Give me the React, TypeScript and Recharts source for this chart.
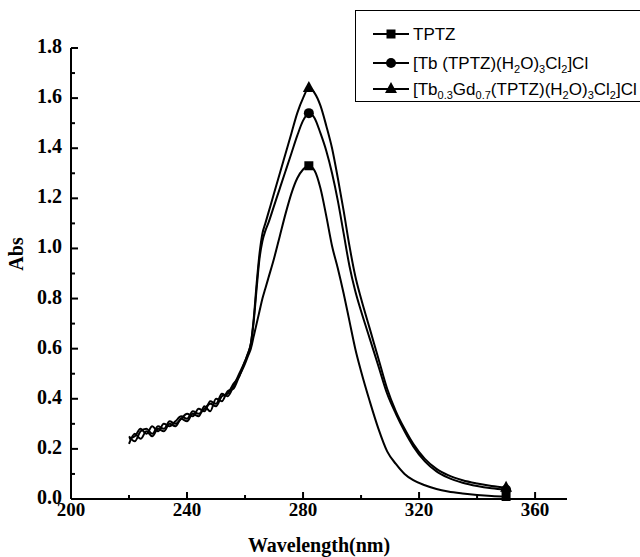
import { LineChart, Line, XAxis, YAxis } from "recharts";

const wavelength = [
  220, 222, 224, 226, 228, 230, 232, 234, 236, 238, 240, 242, 244, 246, 248, 250, 252, 254, 256, 258, 260,
  261, 262, 263, 264, 265, 266, 267, 268, 270, 272, 274, 276, 278, 280, 282, 284, 286, 288, 290, 292, 294,
  296, 298, 300, 303, 306, 309, 312, 315, 318, 322, 326, 330, 335, 340, 345, 350,
];

const tptz = [
  0.22, 0.26, 0.24, 0.27, 0.25, 0.28, 0.27, 0.3, 0.29, 0.32, 0.31, 0.34, 0.33, 0.37, 0.35, 0.4, 0.39, 0.43, 0.44, 0.49, 0.54,
  0.57, 0.6, 0.65, 0.7, 0.75, 0.8, 0.84, 0.88, 0.96, 1.05, 1.14, 1.22, 1.28, 1.315, 1.33, 1.31, 1.24, 1.13, 1.01, 0.92, 0.82,
  0.71, 0.6, 0.51, 0.39, 0.28, 0.19, 0.14, 0.1, 0.075, 0.055, 0.04, 0.03, 0.022, 0.016, 0.012, 0.01,
];

const tbComplex = [
  0.25, 0.23, 0.27, 0.28, 0.26, 0.29, 0.28, 0.31, 0.3, 0.32, 0.34, 0.33, 0.36, 0.35, 0.39, 0.38, 0.42, 0.41, 0.45, 0.5, 0.55,
  0.58, 0.62, 0.71, 0.84, 0.96, 1.03, 1.07, 1.1, 1.17, 1.24, 1.31, 1.38, 1.45, 1.51, 1.54, 1.52, 1.46, 1.39, 1.3, 1.19, 1.06,
  0.93, 0.83, 0.75, 0.64, 0.53, 0.42, 0.34, 0.27, 0.21, 0.15, 0.11, 0.085, 0.065, 0.052, 0.043, 0.037,
];

const tbGdComplex = [
  0.24, 0.25, 0.28, 0.26, 0.29, 0.27, 0.3, 0.29, 0.31, 0.33, 0.32, 0.35, 0.34, 0.36, 0.38, 0.37, 0.41, 0.42, 0.46, 0.49, 0.55,
  0.58, 0.62, 0.72, 0.86, 0.98, 1.06, 1.1, 1.14, 1.22, 1.3, 1.38, 1.46, 1.54, 1.6, 1.64, 1.62, 1.57, 1.49, 1.4, 1.28, 1.15,
  1.01, 0.89, 0.8, 0.68, 0.56, 0.44, 0.35, 0.28, 0.22, 0.16, 0.12, 0.095, 0.075, 0.062, 0.052, 0.045,
];

const xTicks = [200, 220, 240, 260, 280, 300, 320, 340, 360];
const yTicks = [0, 0.1, 0.2, 0.3, 0.4, 0.5, 0.6, 0.7, 0.8, 0.9, 1.0, 1.1, 1.2, 1.3, 1.4, 1.5, 1.6, 1.7, 1.8];
const markerAt = [282, 350];

// legend rows: [text, isSubscript]
const legendTptz: [string, boolean][] = [["TPTZ", false]];
const legendTb: [string, boolean][] = [
  ["[Tb (TPTZ)(H", false], ["2", true], ["O)", false], ["3", true], ["Cl", false], ["2", true], ["]Cl", false],
];
const legendTbGd: [string, boolean][] = [
  ["[Tb", false], ["0.3", true], ["Gd", false], ["0.7", true], ["(TPTZ)(H", false], ["2", true],
  ["O)", false], ["3", true], ["Cl", false], ["2", true], ["]Cl", false],
];

const data = wavelength.map((wl, i) => ({
  wl,
  tptz: tptz[i],
  tb: tbComplex[i],
  tbgd: tbGdComplex[i],
}));

const W = 640;
const H = 557;
const LEFT = 71;
const BOTTOM = 499;
const serif = "'Liberation Serif', 'Times New Roman', serif";
const sans = "'Liberation Sans', Arial, sans-serif";

const XTick = ({ x, payload }: any) => {
  const major = payload.value % 40 === 0;
  return (
    <g>
      <line x1={x} x2={x} y1={BOTTOM} y2={BOTTOM - (major ? 7 : 4)} stroke="#000" strokeWidth={2} />
      {major && (
        <text x={x} y={516} textAnchor="middle" fontFamily={serif} fontWeight="bold" fontSize={19} fill="#000">
          {payload.value}
        </text>
      )}
    </g>
  );
};

const YTick = ({ y, payload }: any) => {
  const major = Math.round(payload.value * 10) % 2 === 0;
  return (
    <g>
      <line x1={LEFT} x2={LEFT + (major ? 7 : 4)} y1={y} y2={y} stroke="#000" strokeWidth={2} />
      {major && (
        <text x={62} y={y + 5} textAnchor="end" fontFamily={serif} fontWeight="bold" fontSize={20} fill="#000">
          {payload.value.toFixed(1)}
        </text>
      )}
    </g>
  );
};

const AbsLabel = () => (
  <text
    x={23}
    y={254}
    transform="rotate(-90 23 254)"
    textAnchor="middle"
    fontFamily={serif}
    fontWeight="bold"
    fontSize={20}
    fill="#000"
  >
    Abs
  </text>
);

const makeDot = (shape: string) => (props: any) => {
  const { cx, cy, payload, index } = props;
  if (!markerAt.includes(payload.wl)) return <g key={index} />;
  if (shape === "square") return <rect key={index} x={cx - 4.5} y={cy - 4.5} width={9} height={9} fill="#000" />;
  if (shape === "circle") return <circle key={index} cx={cx} cy={cy} r={5} fill="#000" />;
  return <path key={index} d={`M${cx},${cy - 7}L${cx + 6},${cy + 4}L${cx - 6},${cy + 4}Z`} fill="#000" />;
};

const Marker = ({ shape, y }: { shape: string; y: number }) => {
  const cx = 35;
  return (
    <g>
      <line x1={17} x2={53} y1={y} y2={y} stroke="#000" strokeWidth={2} />
      {shape === "square" && <rect x={cx - 4.5} y={y - 4.5} width={9} height={9} fill="#000" />}
      {shape === "circle" && <circle cx={cx} cy={y} r={5} fill="#000" />}
      {shape === "triangle" && <path d={`M${cx},${y - 7}L${cx + 6},${y + 4}L${cx - 6},${y + 4}Z`} fill="#000" />}
    </g>
  );
};

const LegendText = ({ parts, y }: { parts: [string, boolean][]; y: number }) => {
  let prevSub = false;
  return (
    <text x={57} y={y}>
      {parts.map(([t, sub], i) => {
        const dy = sub && !prevSub ? 4 : !sub && prevSub ? -4 : 0;
        prevSub = sub;
        return (
          <tspan key={i} dy={dy} fontSize={sub ? 11 : 17}>
            {t}
          </tspan>
        );
      })}
    </text>
  );
};

function ChartLegend() {
  return (
    <div
      style={{
        position: "absolute",
        left: 355,
        top: 10,
        width: 300,
        height: 90,
        border: "1px solid #000",
        background: "#fff",
      }}
    >
      <svg width={300} height={90}>
        <Marker shape="square" y={23} />
        <Marker shape="circle" y={52} />
        <Marker shape="triangle" y={78} />
        <g fontFamily={sans} fill="#000">
          <LegendText parts={legendTptz} y={29} />
          <LegendText parts={legendTb} y={58} />
          <LegendText parts={legendTbGd} y={84} />
        </g>
      </svg>
    </div>
  );
}

export default function App() {
  return (
    <div style={{ position: "absolute", left: 0, top: 0, width: W, height: H, background: "#fff" }}>
      <LineChart width={W} height={H} data={data} margin={{ top: 48, right: 73, bottom: 28, left: 0 }}>
        <XAxis
          dataKey="wl"
          type="number"
          domain={[200, 371]}
          ticks={xTicks}
          interval={0}
          tick={<XTick />}
          tickLine={false}
          height={30}
          axisLine={{ stroke: "#000", strokeWidth: 2 }}
          label={{
            value: "Wavelength(nm)",
            position: "bottom",
            offset: 9,
            style: { fontFamily: serif, fontWeight: "bold", fontSize: 20, fill: "#000" },
          }}
        />
        <YAxis
          type="number"
          domain={[0, 1.8]}
          ticks={yTicks}
          interval={0}
          tick={<YTick />}
          tickLine={false}
          width={LEFT}
          axisLine={{ stroke: "#000", strokeWidth: 2 }}
          label={<AbsLabel />}
        />
        <Line dataKey="tptz" type="monotone" stroke="#000" strokeWidth={2} dot={makeDot("square")} isAnimationActive={false} />
        <Line dataKey="tb" type="monotone" stroke="#000" strokeWidth={2} dot={makeDot("circle")} isAnimationActive={false} />
        <Line dataKey="tbgd" type="monotone" stroke="#000" strokeWidth={2} dot={makeDot("triangle")} isAnimationActive={false} />
      </LineChart>
      <ChartLegend />
    </div>
  );
}
